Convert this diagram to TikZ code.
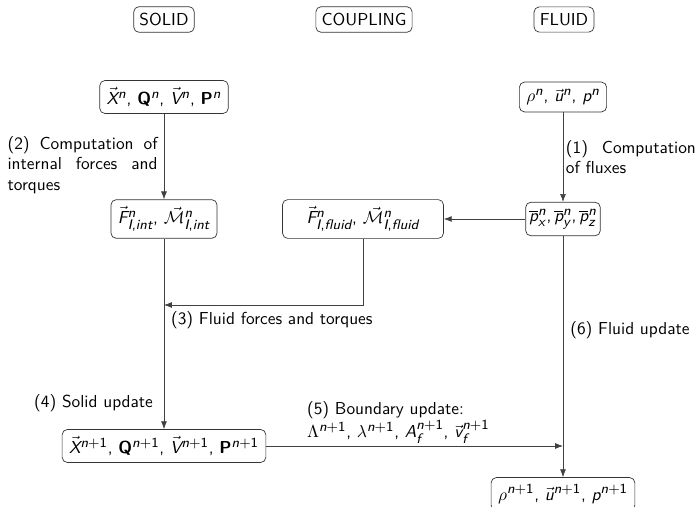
\documentclass[tikz,border=0pt]{standalone}
\usepackage{amsmath}
\renewcommand{\familydefault}{\sfdefault}
\usepackage[italic]{mathastext}
\usepackage{tikz}
\usetikzlibrary{arrows.meta, positioning, calc}
\newlength{\px}
\setlength{\px}{0.0203cm}
\newcommand{\sfLambda}{\text{\usefont{OT1}{lmss}{m}{n}\char3}}
\tikzset{
  var/.style   = {draw, black!80, text=black, rounded corners=3pt, align=center,
                  font=\sffamily, inner sep=4pt},
  head/.style  = {var, inner xsep=3.3pt, inner ysep=3.7pt},
  flow/.style  = {-{Latex[length=1.6mm, width=1.2mm]}, black!75},
  lbl/.style   = {font=\sffamily, text=black, inner sep=1pt},
}

\begin{document}
\begin{tikzpicture}[x=\px, y=-\px]
    \useasboundingbox (0,0) rectangle (696,507);

    % column headers
    \node[head] (solid) at (164,19.5) {SOLID};
    \node[head] (coupling) at (364,19.5) {COUPLING};
    \node[head] (fluid) at (564,19.5) {FLUID};

    % time level n
    \node[var] (xn) at (164,97) {$\vec{X}^n,\, \mathbf{Q}^n,\, \vec{V}^n,\, \mathbf{P}^n$};
    \node[var] (rho) at (563,97) {$\rho^n,\, \vec{u}^n,\, p^n$};

    \node[var] (fint) at (164,219) {$\vec{F}^n_{I,int},\, \vec{\mathcal{M}}^n_{I,int}$};
    \node[var, minimum width=161\px] (ffluid) at (363,219) {$\vec{F}^n_{I,fluid},\, \vec{\mathcal{M}}^n_{I,fluid}$};
    \node[var, inner xsep=2pt] (pbar) at (563,219) {$\overline{p}^n_x, \overline{p}^n_y, \overline{p}^n_z$};

    % time level n+1
    \node[var] (xn1) at (164,446) {$\vec{X}^{n+1},\, \mathbf{Q}^{n+1},\, \vec{V}^{n+1},\, \mathbf{P}^{n+1}$};
    \node[var] (rho1) at (563,494) {$\rho^{n+1},\, \vec{u}^{n+1},\, p^{n+1}$};

    \coordinate (join3) at (fint.south |- 0,305);
    \coordinate (join5) at (pbar.south |- xn1.east);

    \draw[flow] (xn) -- node[lbl, left=2.5pt, pos=0.6, text width=150\px, align=justify]
      {(2) Computation of internal forces and torques} (fint);
    \draw[flow] (rho) -- node[lbl, right=0.5pt, pos=0.5, text width=130\px, align=justify]
      {(1) Computation of fluxes} (pbar);
    \draw[flow] (pbar) -- (ffluid);
    \draw[flow] (ffluid.south) |- (join3);
    \node[lbl, anchor=west] (l3) at (169,320) {(3) Fluid forces and torques};
    \draw[flow] (fint) -- (xn1);
    \node[lbl, anchor=east] (l4) at (155,403) {(4) Solid update};
    \draw[flow] (xn1.east) -- (join5);
    \node[lbl, anchor=south west, align=left] (l5) at (305,446)
      {(5) Boundary update:\\ $\sfLambda^{n+1},\, \lambda^{n+1},\, A_f^{n+1},\, \vec{v}_f^{n+1}$};
    \draw[flow] (pbar) -- node[lbl, right=3pt, pos=0.39] {(6) Fluid update} (rho1);
\end{tikzpicture}
\end{document}
